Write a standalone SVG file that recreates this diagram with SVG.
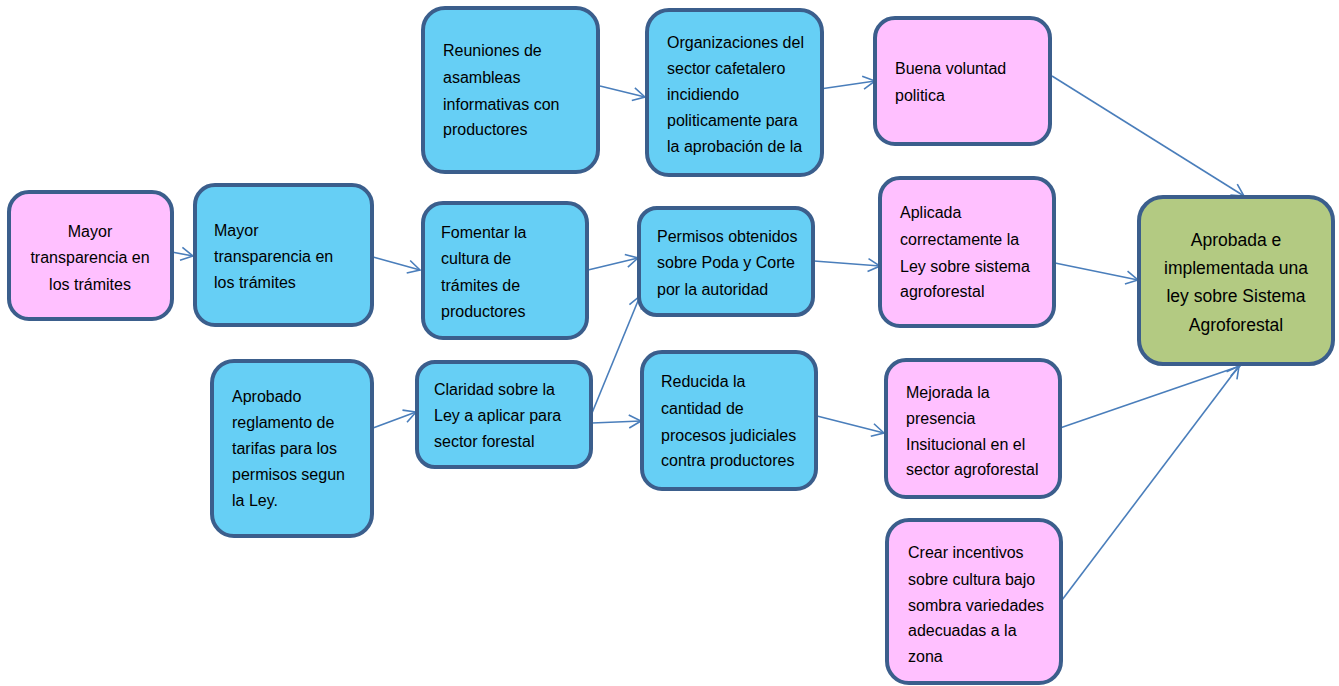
<svg xmlns="http://www.w3.org/2000/svg" width="1339" height="686" viewBox="0 0 1339 686">
<style>
.n rect{stroke:#3B5E8C;stroke-width:4}
.pink{fill:#FFC0FF}
.blue{fill:#66CFF5}
.green{fill:#B3CA82}
text{font-family:"Liberation Sans",Arial,sans-serif;font-size:16px;fill:#000}
.c{text-anchor:middle}
.big{font-size:17.5px}
#edges line{stroke:#4A7EBB;stroke-width:1.6;fill:none}
</style>
<defs>
<marker id="ah" markerUnits="userSpaceOnUse" markerWidth="16" markerHeight="16" refX="13" refY="7" orient="auto" viewBox="0 0 16 14">
<path d="M1,0.5 L13,7 L1,13.5" fill="none" stroke="#4A7EBB" stroke-width="1.6"/>
</marker>
</defs>
<rect width="1339" height="686" fill="#fff"/>

<g id="edges">
<line x1="161" y1="250" x2="193" y2="256" marker-end="url(#ah)"/>
<line x1="373" y1="257" x2="420" y2="270" marker-end="url(#ah)"/>
<line x1="600" y1="86" x2="645" y2="97" marker-end="url(#ah)"/>
<line x1="820" y1="89" x2="875" y2="81" marker-end="url(#ah)"/>
<line x1="1052" y1="76" x2="1244" y2="196" marker-end="url(#ah)"/>
<line x1="588" y1="270" x2="638" y2="258" marker-end="url(#ah)"/>
<line x1="592" y1="413" x2="640" y2="296" marker-end="url(#ah)"/>
<line x1="814" y1="261" x2="880" y2="266" marker-end="url(#ah)"/>
<line x1="1055" y1="263" x2="1138" y2="280" marker-end="url(#ah)"/>
<line x1="373" y1="428" x2="416" y2="412" marker-end="url(#ah)"/>
<line x1="592" y1="423" x2="641" y2="421" marker-end="url(#ah)"/>
<line x1="817" y1="416" x2="884" y2="433" marker-end="url(#ah)"/>
<line x1="1060" y1="428" x2="1240" y2="366" marker-end="url(#ah)"/>
<line x1="1062" y1="600" x2="1239" y2="366" marker-end="url(#ah)"/>
</g>

<g id="n1" class="n">
<rect class="pink" x="9" y="192" width="163" height="127" rx="20"/>
<text class="c" x="90" y="237">Mayor</text>
<text class="c" x="90" y="263">transparencia en</text>
<text class="c" x="90" y="290">los trámites</text>
</g>

<g id="n2" class="n">
<rect class="blue" x="195" y="185" width="177" height="140" rx="20"/>
<text x="214" y="236">Mayor</text>
<text x="214" y="262">transparencia en</text>
<text x="214" y="288">los trámites</text>
</g>

<g id="n3" class="n">
<rect class="blue" x="423" y="8" width="175" height="164" rx="22"/>
<text x="443" y="56">Reuniones de</text>
<text x="443" y="83">asambleas</text>
<text x="443" y="110">informativas con</text>
<text x="443" y="135">productores</text>
</g>

<g id="n4" class="n">
<rect class="blue" x="647" y="10" width="175" height="165" rx="22"/>
<text x="667" y="48">Organizaciones del</text>
<text x="667" y="74">sector cafetalero</text>
<text x="667" y="100">incidiendo</text>
<text x="667" y="126">politicamente para</text>
<text x="667" y="152">la aprobación de la</text>
</g>

<g id="n5" class="n">
<rect class="pink" x="875" y="18" width="175" height="126" rx="20"/>
<text x="895" y="74">Buena voluntad</text>
<text x="895" y="101">politica</text>
</g>

<g id="n6" class="n">
<rect class="blue" x="423" y="203" width="164" height="135" rx="20"/>
<text x="441" y="238">Fomentar la</text>
<text x="441" y="264">cultura de</text>
<text x="441" y="291">trámites de</text>
<text x="441" y="317">productores</text>
</g>

<g id="n7" class="n">
<rect class="blue" x="639" y="208" width="174" height="107" rx="18"/>
<text x="657" y="242">Permisos obtenidos</text>
<text x="657" y="268">sobre Poda y Corte</text>
<text x="657" y="295">por la autoridad</text>
</g>

<g id="n8" class="n">
<rect class="pink" x="880" y="178" width="174" height="148" rx="20"/>
<text x="900" y="218">Aplicada</text>
<text x="900" y="245">correctamente la</text>
<text x="900" y="272">Ley sobre sistema</text>
<text x="900" y="297">agroforestal</text>
</g>

<g id="n9" class="n">
<rect class="green" x="1139" y="197" width="194" height="167" rx="24"/>
<text class="c big" x="1236" y="246">Aprobada e</text>
<text class="c big" x="1236" y="274">implementada una</text>
<text class="c big" x="1236" y="302">ley sobre Sistema</text>
<text class="c big" x="1236" y="331">Agroforestal</text>
</g>

<g id="n10" class="n">
<rect class="blue" x="212" y="361" width="160" height="175" rx="22"/>
<text x="232" y="402">Aprobado</text>
<text x="232" y="428">reglamento de</text>
<text x="232" y="454">tarifas para los</text>
<text x="232" y="480">permisos segun</text>
<text x="232" y="506">la Ley.</text>
</g>

<g id="n11" class="n">
<rect class="blue" x="417" y="362" width="174" height="105" rx="18"/>
<text x="434" y="395">Claridad sobre la</text>
<text x="434" y="421">Ley a aplicar para</text>
<text x="434" y="447">sector forestal</text>
</g>

<g id="n12" class="n">
<rect class="blue" x="642" y="352" width="174" height="137" rx="20"/>
<text x="661" y="387">Reducida la</text>
<text x="661" y="414">cantidad de</text>
<text x="661" y="441">procesos judiciales</text>
<text x="661" y="466">contra productores</text>
</g>

<g id="n13" class="n">
<rect class="pink" x="886" y="360" width="174" height="137" rx="20"/>
<text x="906" y="398">Mejorada la</text>
<text x="906" y="424">presencia</text>
<text x="906" y="450">Insitucional en el</text>
<text x="906" y="475">sector agroforestal</text>
</g>

<g id="n14" class="n">
<rect class="pink" x="887" y="520" width="174" height="163" rx="22"/>
<text x="908" y="558">Crear incentivos</text>
<text x="908" y="585">sobre cultura bajo</text>
<text x="908" y="611">sombra variedades</text>
<text x="908" y="636">adecuadas a la</text>
<text x="908" y="662">zona</text>
</g>
</svg>
